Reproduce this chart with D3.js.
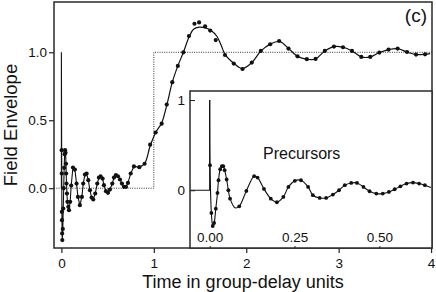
<!DOCTYPE html>
<html>
<head>
<meta charset="utf-8">
<script src="https://d3js.org/d3.v7.min.js"></script>
<style>
  body { margin: 0; background: #fff; }
  svg { display: block; font-family: "Liberation Sans", Arial, sans-serif; }
</style>
</head>
<body>
<svg id="chart" width="436" height="292"></svg>
<script>
// main panel: precursor dots (joined by straight segments)
var precT = [0.003, 0.004, 0.005, 0.006, 0.008, 0.01, 0.015, 0.02, 0.025, 0.03, 0.035, 0.04,
  0.045, 0.05, 0.052, 0.055, 0.06, 0.065, 0.075, 0.082, 0.095, 0.106, 0.125, 0.146, 0.164,
  0.179, 0.2, 0.222, 0.236, 0.255, 0.273, 0.291, 0.309, 0.327, 0.345, 0.366, 0.388, 0.406,
  0.424, 0.446, 0.46, 0.482, 0.504, 0.525, 0.551, 0.569, 0.59, 0.612, 0.634, 0.655, 0.677,
  0.699, 0.72, 0.75, 0.785, 0.843];
var precV = [0.28, 0.108, -0.174, -0.235, -0.333, -0.382, -0.3, -0.15, 0.0, 0.15, 0.25, 0.28,
  0.26, 0.18, 0.108, 0.034, -0.039, -0.1, -0.137, -0.162, -0.1, 0.02, 0.152, 0.137, 0.034,
  -0.064, -0.125, -0.064, 0.034, 0.1, 0.108, 0.059, -0.015, -0.069, -0.083, -0.039, 0.034, 0.078,
  0.088, 0.071, 0.022, -0.022, -0.034, -0.01, 0.034, 0.078, 0.096, 0.088, 0.064, 0.034, 0.01,
  0.01, 0.039, 0.108, 0.16, 0.155];

// main panel: dots after the precursors
var mainDotT = [0.9, 0.96, 1.02, 1.085, 1.14, 1.2, 1.26, 1.32, 1.38, 1.44, 1.49, 1.555, 1.61,
  1.67, 1.77, 1.865, 1.96, 2.06, 2.158, 2.259, 2.356, 2.457, 2.555, 2.656, 2.75, 2.85, 2.949,
  3.047, 3.144, 3.245, 3.342, 3.44, 3.54, 3.638, 3.74, 3.837, 3.935];
var mainDotV = [0.18, 0.32, 0.41, 0.475, 0.615, 0.78, 0.9, 1.0, 1.12, 1.21, 1.22, 1.19, 1.16,
  1.09, 0.98, 0.917, 0.877, 0.924, 1.01, 1.059, 1.083, 1.027, 0.97, 0.949, 0.951, 1.01, 1.042,
  1.037, 1.01, 0.966, 0.966, 0.998, 1.02, 1.027, 1.002, 0.983, 0.985];

// main panel: smooth curve
var curveT = [0.843, 0.9, 0.96, 1.02, 1.085, 1.14, 1.2, 1.26, 1.32, 1.38, 1.43, 1.49, 1.56,
  1.62, 1.68, 1.73, 1.77, 1.87, 1.96, 2.06, 2.16, 2.26, 2.36, 2.46, 2.555, 2.656, 2.75, 2.85,
  2.95, 3.047, 3.144, 3.245, 3.342, 3.44, 3.54, 3.638, 3.74, 3.837, 3.935, 3.99];
var curveV = [0.155, 0.18, 0.31, 0.41, 0.48, 0.61, 0.78, 0.9, 1.0, 1.11, 1.17, 1.185, 1.18,
  1.16, 1.12, 1.05, 0.985, 0.917, 0.88, 0.924, 1.01, 1.06, 1.08, 1.027, 0.97, 0.949, 0.951, 1.01,
  1.042, 1.037, 1.01, 0.966, 0.966, 0.998, 1.02, 1.027, 1.002, 0.983, 0.985, 0.99];

// step input (dotted)
var stepT = [-0.08, 1, 1, 4.01];
var stepV = [0, 0, 1, 1];

// inset: precursor close-up
var insetT = [0.001, 0.005, 0.009, 0.013, 0.018, 0.023, 0.026, 0.031, 0.036, 0.04, 0.044, 0.05,
  0.055, 0.06, 0.087, 0.108, 0.131, 0.141, 0.16, 0.18, 0.198, 0.217, 0.232, 0.251, 0.269, 0.29,
  0.304, 0.324, 0.343, 0.363, 0.381, 0.398, 0.417, 0.434, 0.453, 0.471, 0.491, 0.51, 0.528,
  0.545, 0.562, 0.58, 0.599, 0.617, 0.634];
var insetV = [0.278, -0.252, -0.396, -0.363, -0.204, -0.03, 0.111, 0.233, 0.267, 0.267, 0.222,
  0.119, 0.0, -0.093, -0.178, -0.007, 0.156, 0.141, 0.015, -0.093, -0.133, -0.074, 0.037, 0.104,
  0.111, 0.037, -0.055, -0.085, -0.085, -0.048, 0, 0.056, 0.081, 0.081, 0.037, -0.011, -0.037,
  -0.037, -0.019, 0.011, 0.044, 0.074, 0.085, 0.074, 0.056];
var insetExtraT = [0.075, 0.652];
var insetExtraV = [-0.195, 0.03];

var mainXTicks = [0, 1, 2, 3, 4];
var mainYTicks = [0, 0.5, 1];
var insetXTicks = [0, 0.25, 0.5];
var insetYTicks = [0, 1];

function zip(t, v) { return t.map(function(d, i) { return [d, v[i]]; }); }

var svg = d3.select("#chart");
var mL = 54, mR = 432, mT = 2, mB = 248;
var x = d3.scaleLinear().domain([-0.08, 4.01]).range([mL, mR]);
var y = d3.scaleLinear().domain([-0.44, 1.37]).range([mB, mT]);

var iL = 190, iT = 91;
var xi = d3.scaleLinear().domain([-0.058, 0.655]).range([iL, mR]);
var yi = d3.scaleLinear().domain([-0.64, 1.1]).range([mB, iT]);

var ink = "#111";
var font = "'Liberation Sans', Arial, sans-serif";

// dotted step
var line = d3.line().x(function(d) { return x(d[0]); }).y(function(d) { return y(d[1]); });
svg.append("path")
  .datum(zip(stepT, stepV))
  .attr("fill", "none")
  .attr("stroke", "#333")
  .attr("stroke-width", 1)
  .attr("stroke-dasharray", "1,1.3")
  .attr("d", line);

// spike + precursors
svg.append("path")
  .datum([[0, 0], [0, 1]].concat(zip(precT, precV)))
  .attr("fill", "none").attr("stroke", ink).attr("stroke-width", 1.1)
  .attr("d", line);

svg.append("path")
  .datum(zip(curveT, curveV))
  .attr("fill", "none").attr("stroke", ink).attr("stroke-width", 1.2)
  .attr("d", d3.line().x(function(d) { return x(d[0]); }).y(function(d) { return y(d[1]); })
    .curve(d3.curveCatmullRom));

svg.append("g").selectAll("circle")
  .data(zip(precT, precV).concat(zip(mainDotT, mainDotV)))
  .enter().append("circle")
  .attr("cx", function(d) { return x(d[0]); })
  .attr("cy", function(d) { return y(d[1]); })
  .attr("r", 2.1)
  .attr("fill", ink);

// main axes
var xAxis = d3.axisBottom(x).tickValues(mainXTicks).tickSize(5).tickSizeOuter(0).tickFormat(d3.format("d"));
var gx = svg.append("g").attr("transform", "translate(0," + mB + ")").call(xAxis);
var yAxis = d3.axisLeft(y).tickValues(mainYTicks).tickSize(5).tickSizeOuter(0).tickFormat(d3.format(".1f"));
var gy = svg.append("g").attr("transform", "translate(" + mL + ",0)").call(yAxis);
[gx, gy].forEach(function(g) {
  g.select(".domain").remove();
  g.selectAll(".tick line").attr("stroke", "#222").attr("stroke-width", 1.2);
  g.selectAll(".tick text").attr("fill", "#111").style("font-size", "13.5px")
    .style("font-family", font);
});
gx.selectAll(".tick text").attr("y", 20).attr("dy", "0");
gy.selectAll(".tick text").attr("x", -7);

svg.append("rect")
  .attr("x", mL).attr("y", mT)
  .attr("width", mR - mL).attr("height", mB - mT)
  .attr("fill", "none").attr("stroke", "#2a2a2a").attr("stroke-width", 1.5);

// inset
svg.append("rect")
  .attr("x", iL).attr("y", iT)
  .attr("width", mR - iL).attr("height", mB - iT)
  .attr("fill", "#fff");

var lineI = d3.line().x(function(d) { return xi(d[0]); }).y(function(d) { return yi(d[1]); });
var insetPts = zip(insetT, insetV).concat(zip(insetExtraT, insetExtraV))
  .sort(function(a, b) { return a[0] - b[0]; });

svg.append("path")
  .datum([[-0.058, 0], [0, 0], [0, 1]])
  .attr("fill", "none").attr("stroke", ink).attr("stroke-width", 1.1)
  .attr("d", lineI);
svg.append("path")
  .datum([[0, 1]].concat(insetPts))
  .attr("fill", "none").attr("stroke", ink).attr("stroke-width", 1.1)
  .attr("d", d3.line().x(function(d) { return xi(d[0]); }).y(function(d) { return yi(d[1]); })
    .curve(d3.curveCatmullRom));

svg.append("g").selectAll("circle")
  .data(zip(insetT, insetV))
  .enter().append("circle")
  .attr("cx", function(d) { return xi(d[0]); })
  .attr("cy", function(d) { return yi(d[1]); })
  .attr("r", 1.9)
  .attr("fill", ink);

var xiAxis = d3.axisTop(xi).tickValues(insetXTicks).tickSize(2).tickSizeOuter(0).tickFormat(d3.format(".2f"));
var gxi = svg.append("g").attr("transform", "translate(0," + mB + ")").call(xiAxis);
var yiAxis = d3.axisRight(yi).tickValues(insetYTicks).tickSize(5).tickSizeOuter(0).tickFormat(d3.format("d"));
var gyi = svg.append("g").attr("transform", "translate(" + iL + ",0)").call(yiAxis);
[gxi, gyi].forEach(function(g) {
  g.select(".domain").remove();
  g.selectAll(".tick line").attr("stroke", "#222").attr("stroke-width", 1);
  g.selectAll(".tick text").attr("fill", "#111").style("font-size", "13.5px")
    .style("font-family", font);
});
gxi.selectAll(".tick text").attr("y", -6).attr("dy", "0");
gyi.selectAll(".tick text").attr("x", -5).attr("text-anchor", "end");

svg.append("rect")
  .attr("x", iL).attr("y", iT)
  .attr("width", mR - iL).attr("height", mB - iT)
  .attr("fill", "none").attr("stroke", "#2a2a2a").attr("stroke-width", 1.5);

// labels
svg.append("text")
  .attr("x", (mL + mR) / 2).attr("y", 288)
  .attr("text-anchor", "middle")
  .style("font-size", "18px").attr("fill", "#111")
  .text("Time in group-delay units");

svg.append("text")
  .attr("transform", "translate(17," + ((mT + mB) / 2) + ") rotate(-90)")
  .attr("text-anchor", "middle")
  .style("font-size", "18.5px").attr("fill", "#111")
  .text("Field Envelope");

svg.append("text")
  .attr("x", 427).attr("y", 22)
  .attr("text-anchor", "end")
  .style("font-size", "19px").attr("fill", "#111")
  .text("(c)");

svg.append("text")
  .attr("x", 263).attr("y", 159)
  .style("font-size", "16px").attr("fill", "#111")
  .text("Precursors");
</script>
</body>
</html>
